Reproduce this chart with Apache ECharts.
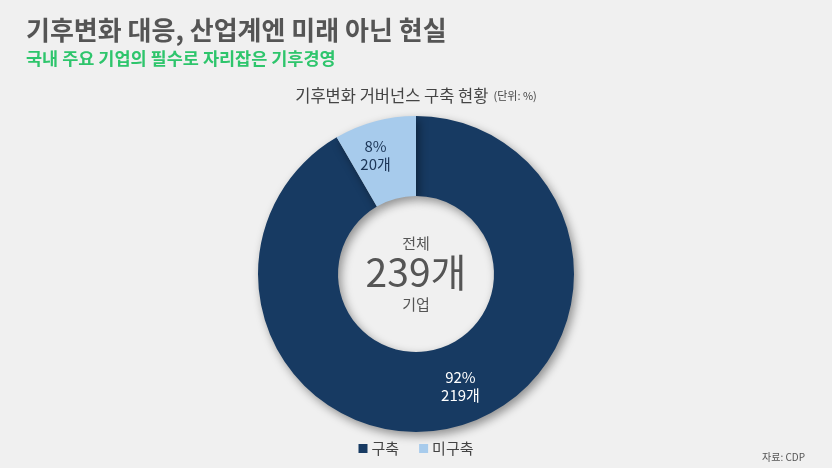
<!DOCTYPE html>
<html>
  <head>
    <meta charset="UTF-8">
    <script src="https://cdn.jsdelivr.net/npm/echarts@6/dist/echarts.min.js"></script>
    <title>기후변화 거버넌스 구축 현황</title>
    <style>
      html, body { margin: 0; padding: 0; background: #f0f0f0; }
    </style>
  </head>
  <body>
    <div id="main" style="width: 832px;height:468px;"></div>
  </body>

  <script>
// 데이터
var categories = ['구축', '미구축'];
var counts = [219, 20];
var percents = [92, 8];
var total = 239;

var colors = ['#173a62', '#a7cbec'];
var labelColors = ['#ffffff', '#1b3556'];
var labelOffsets = [[13, -5], [-9, -2]];
var font = '"Noto Sans CJK KR", "Noto Sans", sans-serif';

var chart = echarts.init(document.getElementById('main'));

var pieData = categories.map(function (name, i) {
    return {
        name: name,
        value: counts[i],
        itemStyle: { color: colors[i] },
        label: {
            color: labelColors[i],
            offset: labelOffsets[i],
            formatter: percents[i] + '%\n' + counts[i] + '개'
        }
    };
});

option = {
    backgroundColor: '#f0f0f0',
    animation: false,
    title: [
        {
            text: '기후변화 대응, 산업계엔 미래 아닌 현실',
            left: 21,
            top: 12,
            textStyle: { fontFamily: font, fontSize: 26, fontWeight: 'bold', color: '#555555' }
        },
        {
            text: '국내 주요 기업의 필수로 자리잡은 기후경영',
            left: 21,
            top: 45,
            textStyle: { fontFamily: font, fontSize: 17.5, fontWeight: 'bold', color: '#2ec56c' }
        },
        {
            text: '{a|기후변화 거버넌스 구축 현황} {b|(단위: %)}',
            left: 'center',
            top: 82,
            textStyle: {
                rich: {
                    a: { fontFamily: font, fontSize: 16.5, fontWeight: 'normal', color: '#444444' },
                    b: { fontFamily: font, fontSize: 11, fontWeight: 'normal', color: '#444444' }
                }
            }
        },
        {
            text: '자료: CDP',
            right: 22,
            top: 447,
            textStyle: { fontFamily: font, fontSize: 10, fontWeight: 'normal', color: '#555555' }
        }
    ],
    legend: {
        data: categories,
        bottom: 7,
        left: 'center',
        icon: 'rect',
        itemWidth: 9,
        itemHeight: 9,
        itemGap: 20,
        textStyle: { fontFamily: font, fontSize: 15, color: '#444444', padding: [0, 0, 0, -1] }
    },
    graphic: [
        {
            type: 'group',
            left: 'center',
            top: 236,
            children: [
                {
                    type: 'text',
                    style: { text: '전체', x: 0, y: 0, align: 'center', font: '15px ' + font, fill: '#555555' }
                },
                {
                    type: 'text',
                    style: { text: total + '개', x: 0, y: 17, align: 'center', font: '39px ' + font, fill: '#555555' }
                },
                {
                    type: 'text',
                    style: { text: '기업', x: 0, y: 61, align: 'center', font: '15px ' + font, fill: '#555555' }
                }
            ]
        }
    ],
    series: [
        {
            type: 'pie',
            center: [416, 274],
            radius: [78, 158],
            startAngle: 90,
            clockwise: true,
            avoidLabelOverlap: false,
            itemStyle: {
                shadowBlur: 10,
                shadowOffsetX: 3,
                shadowOffsetY: 4,
                shadowColor: 'rgba(0,0,0,0.4)'
            },
            label: {
                show: true,
                position: 'inside',
                fontFamily: font,
                fontSize: 15,
                lineHeight: 18
            },
            labelLine: { show: false },
            emphasis: { disabled: true },
            data: pieData
        }
    ]
};

chart.setOption(option);
  </script>
</html>
